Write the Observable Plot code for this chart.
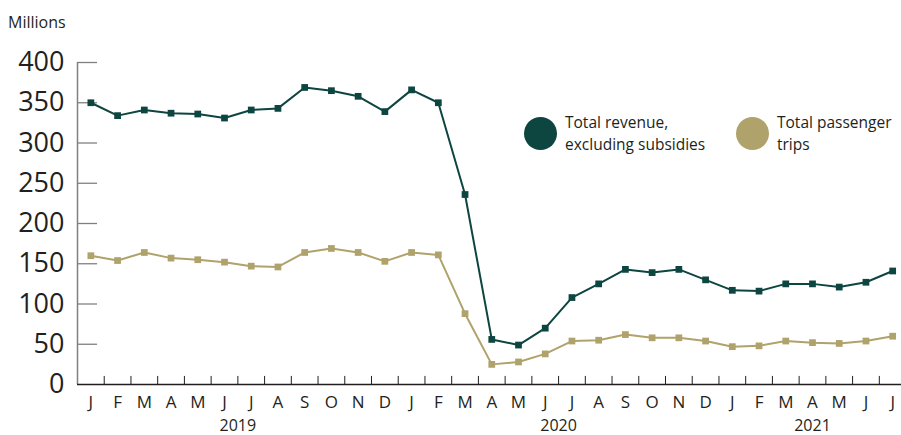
<!DOCTYPE html>
<html>
<head>
<meta charset="utf-8">
<script src="https://cdn.jsdelivr.net/npm/d3@7"></script>
<script src="https://cdn.jsdelivr.net/npm/@observablehq/plot@0.6"></script>
<style>
  html, body { margin: 0; padding: 0; background: #fff; }
  #wrap { position: relative; width: 901px; height: 435px; font-family: "Open Sans", sans-serif; color: #231f20; }
  #units { position: absolute; left: 8px; top: 11px; font-size: 16px; line-height: 22px; }
  .leg { position: absolute; display: flex; align-items: center; font-size: 15.5px; line-height: 22px; }
  .sw { width: 33px; height: 33px; border-radius: 50%; margin-right: 8px; flex: none; }
</style>
</head>
<body>
<div id="wrap">
  <div id="chart"></div>
  <div id="units">Millions</div>
</div>
<script>
const monthLabels = ["J","F","M","A","M","J","J","A","S","O","N","D",
                     "J","F","M","A","M","J","J","A","S","O","N","D",
                     "J","F","M","A","M","J","J"];
const years = ["2019","2020","2021"];
const yearOfMonth = [0,0,0,0,0,0,0,0,0,0,0,0, 1,1,1,1,1,1,1,1,1,1,1,1, 2,2,2,2,2,2,2];
const revenue = [350,334,341,337,336,331,341,343,369,365,358,339,
                 366,350,236,56,49,70,108,125,143,139,143,130,
                 117,116,125,125,121,127,141];
const trips = [160,154,164,157,155,152,147,146,164,169,164,153,
               164,161,88,25,28,38,54,55,62,58,58,54,
               47,48,54,52,51,54,60];
const yTicks = [50,100,150,200,250,300,350,400];
const seriesNames = ["Total revenue,\nexcluding subsidies", "Total passenger\ntrips"];
const seriesColors = ["#0d4540", "#b0a26b"];

const idx = d3.range(monthLabels.length);
const revData = idx.map(i => ({i, v: revenue[i]}));
const tripData = idx.map(i => ({i, v: trips[i]}));
const boundaries = idx.slice(0, -1).map(i => i + 0.5);
const yearCenters = years.map((y, k) => {
  const ms = idx.filter(i => yearOfMonth[i] === k);
  return {label: y, x: (ms[0] + ms[ms.length - 1]) / 2};
});

const chart = Plot.plot({
  width: 901,
  height: 435,
  marginLeft: 77,
  marginRight: 0,
  marginTop: 62,
  marginBottom: 51,
  style: {fontFamily: "'Open Sans', sans-serif", color: "#231f20", background: "#fff"},
  x: {domain: [-0.5, 30.33], axis: null},
  y: {domain: [0, 400], axis: null},
  marks: [
    Plot.ruleY(yTicks, {x1: -0.5, x2: 0.25, stroke: "#808080", strokeWidth: 1.3}),
    Plot.ruleX([-0.5], {y1: 0, y2: 400, stroke: "#808080", strokeWidth: 1.5}),
    Plot.text(yTicks.concat([0]), {x: -0.5, y: d => d, text: d => String(d), textAnchor: "end", dx: -13, fontSize: 27, fill: "#231f20", style: "letter-spacing: 2px"}),
    Plot.ruleX(boundaries, {y1: 0, y2: 10, stroke: "#231f20", strokeWidth: 1}),
    Plot.ruleY([0], {stroke: "#231f20", strokeWidth: 1.5}),
    Plot.text(idx, {x: d => d, y: 0, text: d => monthLabels[d], dy: 18, fontSize: 17, fill: "#231f20"}),
    Plot.text(yearCenters, {x: "x", y: 0, text: "label", dy: 41, fontSize: 16, fill: "#231f20"}),
    Plot.line(tripData, {x: "i", y: "v", stroke: seriesColors[1], strokeWidth: 2}),
    Plot.dot(tripData, {x: "i", y: "v", symbol: "square", r: 3.8, fill: seriesColors[1]}),
    Plot.line(revData, {x: "i", y: "v", stroke: seriesColors[0], strokeWidth: 2}),
    Plot.dot(revData, {x: "i", y: "v", symbol: "square", r: 3.8, fill: seriesColors[0]})
  ]
});
document.getElementById("chart").appendChild(chart);

const wrap = document.getElementById("wrap");
const legPos = [{left: 524, top: 111}, {left: 736, top: 111}];
seriesNames.forEach((name, k) => {
  const el = document.createElement("div");
  el.className = "leg";
  el.style.left = legPos[k].left + "px";
  el.style.top = legPos[k].top + "px";
  el.innerHTML = `<div class="sw" style="background:${seriesColors[k]}"></div><div>${name.replace("\n", "<br>")}</div>`;
  wrap.appendChild(el);
});
</script>
</body>
</html>
